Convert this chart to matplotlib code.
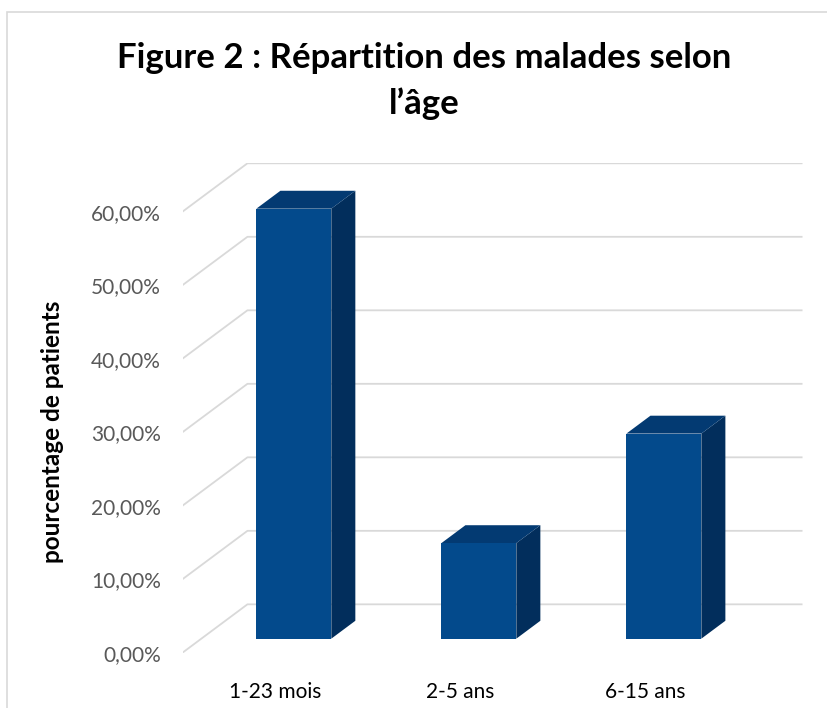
import matplotlib
matplotlib.use("Agg")
import matplotlib.pyplot as plt
from matplotlib.patches import Polygon, Rectangle

# data
categories = ["1-23 mois", "2-5 ans", "6-15 ans"]
values = [58.5, 13.0, 27.9]          # pourcentage de patients
ticks = [0, 10, 20, 30, 40, 50, 60]
tick_labels = ["0,00%", "10,00%", "20,00%", "30,00%", "40,00%", "50,00%", "60,00%"]

# fake 3d: shift of the back plane (x in category units, y in percent)
DX, DY = 0.351, 6.58
D0, D1 = 0.29, 0.66          # depth of bar front / back faces
W = 0.405

FRONT = "#034a8c"
TOP = "#033a72"
SIDE = "#022e5c"
GRID = "#d9d9d9"

plt.rcParams["font.family"] = ["Lato", "DejaVu Sans"]

fig = plt.figure(figsize=(8.27, 7.08), dpi=100)
ax = fig.add_axes([182.5 / 827, 55.3 / 708, 620 / 827, 489.4 / 708])
ax.set_xlim(-0.5, 2.5 + DX)
ax.set_ylim(0, 60 + DY)


def proj(x, v, d):
    return (x + d * DX, v + d * DY)


# walls gridlines
for t in ticks:
    a = proj(-0.5, t, 0)
    b = proj(-0.5, t, 1)
    c = proj(2.5, t, 1)
    ax.plot([a[0], b[0], c[0]], [a[1], b[1], c[1]], color=GRID, lw=1.3,
            solid_capstyle="butt", zorder=1)

for i, v in enumerate(values):
    x0, x1 = i - W / 2, i + W / 2
    side = [proj(x1, 0, D0), proj(x1, 0, D1), proj(x1, v, D1), proj(x1, v, D0)]
    top = [proj(x0, v, D0), proj(x0, v, D1), proj(x1, v, D1), proj(x1, v, D0)]
    ax.add_patch(Polygon(side, closed=True, facecolor=SIDE, edgecolor="none", zorder=2))
    ax.add_patch(Polygon(top, closed=True, facecolor=TOP, edgecolor="none", zorder=2))
    fx, fy = proj(x0, 0, D0)
    ax.bar(fx, v, width=W, bottom=fy, align="edge", color=FRONT, zorder=3)

ax.set_yticks(ticks)
ax.set_yticklabels(tick_labels, fontsize=15, color="#595959")
ax.set_xticks(range(len(categories)))
ax.set_xticklabels(categories, fontsize=15, color="#000000")
ax.tick_params(axis="y", length=0, pad=15.5)
ax.tick_params(axis="x", length=0, pad=21)
for s in ax.spines.values():
    s.set_visible(False)
ax.set_ylabel("pourcentage de patients", fontsize=17.5, fontweight="bold")
ax.yaxis.set_label_coords(-0.191, 0.451)

fig.text(424 / 827, 1 - 68 / 708, "Figure 2 : Répartition des malades selon",
         ha="center", va="baseline", fontsize=25, fontweight="bold")
fig.text(424 / 827, 1 - 114 / 708, "l’âge",
         ha="center", va="baseline", fontsize=25, fontweight="bold")

# chart area border
fig.patches.append(Rectangle((7 / 827, -0.05), 1.1, 1 - 11.5 / 708 + 0.05,
                             transform=fig.transFigure, fill=False,
                             edgecolor="#d9d9d9", lw=1.2))

fig.savefig("out.png", dpi=100)
